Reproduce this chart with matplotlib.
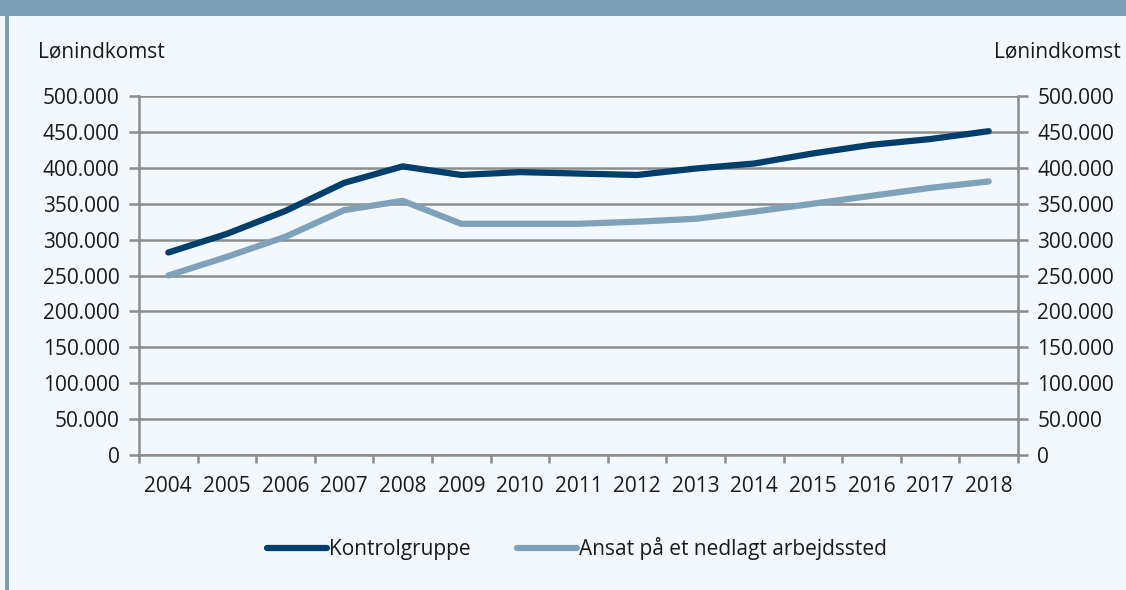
import matplotlib
matplotlib.use("Agg")
import matplotlib.pyplot as plt
from matplotlib.patches import Rectangle

years = [str(y) for y in range(2004, 2019)]
kontrol = [282000, 308000, 340000, 379000, 402000, 390000, 394000, 392000,
           390000, 399000, 406000, 420000, 432000, 440000, 451000]
nedlagt = [250000, 276000, 304000, 341000, 354000, 322000, 322000, 322000,
           325000, 329000, 339000, 350000, 361000, 372000, 381000]
yticks = list(range(0, 500001, 50000))
ylabels = ["0"] + ["{:,}".format(v).replace(",", ".") for v in yticks[1:]]

dark = "#003E6B"
light = "#7FA2BA"
bg = "#F3F8FC"
grid = "#8C8C8C"
txt = "#1A1A1A"
fs = 15

plt.rcParams['font.family'] = ['Open Sans', 'DejaVu Sans']

fig = plt.figure(figsize=(11.26, 5.9), dpi=100, facecolor=bg)
# title band and left border of the frame
fig.patches.append(Rectangle((0, 1 - 16 / 590), 1, 16 / 590, transform=fig.transFigure,
                             facecolor="#7C9FB7", edgecolor="none"))
fig.patches.append(Rectangle((5 / 1126, 0), 4 / 1126, 1 - 16 / 590, transform=fig.transFigure,
                             facecolor="#7C9FB7", edgecolor="none"))

ax = fig.add_axes([139 / 1126, 135 / 590, 879 / 1126, 359 / 590])
ax.set_facecolor(bg)
x = list(range(len(years)))
ax.plot(x, kontrol, color=dark, lw=4.5, solid_capstyle="round", label="Kontrolgruppe", zorder=3)
ax.plot(x, nedlagt, color=light, lw=4.5, solid_capstyle="round", label="Ansat på et nedlagt arbejdssted", zorder=3)

ax.set_xlim(-0.5, len(years) - 0.5)
ax.set_ylim(0, 500000)
ax.set_yticks(yticks)
ax.set_yticklabels(ylabels)
ax.yaxis.grid(True, color=grid, lw=1.8)
ax.set_axisbelow(True)
ax.set_xticks(x)
ax.set_xticklabels(years)
ax.set_xticks([i - 0.5 for i in range(len(years) + 1)], minor=True)
ax.tick_params(axis="x", which="major", length=0, pad=15, labelsize=fs, colors=txt)
ax.tick_params(axis="x", which="minor", length=6, width=1.8, color=grid)
ax.tick_params(axis="y", length=7, width=1.8, color=grid, labelsize=fs, labelcolor=txt,
               left=True, right=True, labelleft=True, labelright=True, pad=7)
ax.spines["top"].set_visible(False)
for s in ["left", "right", "bottom"]:
    ax.spines[s].set_color(grid)
    ax.spines[s].set_linewidth(1.8)

fig.text(38 / 1126, 1 - 52 / 590, "Lønindkomst", fontsize=fs, color=txt, va="center", ha="left")
fig.text(1121 / 1126, 1 - 52 / 590, "Lønindkomst", fontsize=fs, color=txt, va="center", ha="right")

fig.legend(loc="center", bbox_to_anchor=(577 / 1126, 1 - 549 / 590), ncol=2, frameon=False,
           fontsize=fs, handlelength=2.9, handletextpad=0.1, columnspacing=2.2,
           labelcolor=txt)

fig.savefig("out.png", dpi=100, facecolor=bg)
